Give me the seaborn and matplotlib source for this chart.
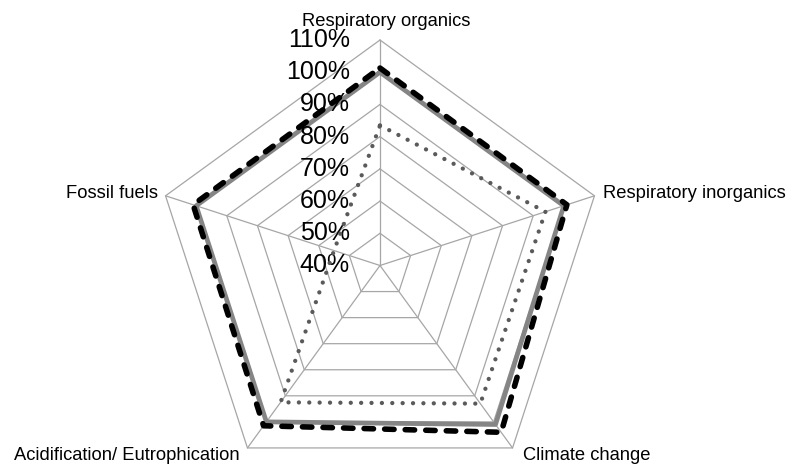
import numpy as np
import pandas as pd
import matplotlib
matplotlib.use("Agg")
import matplotlib.pyplot as plt
import seaborn as sns

# ---- data ----
categories = ["Respiratory organics", "Respiratory inorganics", "Climate change",
              "Acidification/ Eutrophication", "Fossil fuels"]
series_solid = [100, 100, 101, 100, 100]
series_dashed = [101.3, 101, 104, 101.5, 101]
series_dotted = [83.5, 94, 93, 92.5, 55]
tick_values = [40, 50, 60, 70, 80, 90, 100, 110]
tick_labels = ["40%", "50%", "60%", "70%", "80%", "90%", "100%", "110%"]

sns.set_theme(style="white")
plt.rcParams['font.family'] = ['Liberation Sans', 'DejaVu Sans']

fig = plt.figure(figsize=(7.96, 4.67), dpi=100)
W, H = 796, 467
cx, cy, R = 380, 265.5, 225.5
ax = fig.add_axes([(cx - R) / W, (H - cy - R) / H, 2 * R / W, 2 * R / H], projection='polar')
ax.set_theta_offset(np.pi / 2)
ax.set_theta_direction(-1)
ax.set_ylim(tick_values[0], tick_values[-1])
ax.grid(False)
ax.spines['polar'].set_visible(False)
ax.set_facecolor('none')
ax.set_xticks([])
ax.set_yticks([])

n = len(categories)
angles = np.linspace(0, 2 * np.pi, n, endpoint=False)
closed = np.append(angles, 2 * np.pi)

grid_color = '#a6a6a6'
# polygon grid rings
for v in tick_values[1:]:
    ax.plot(closed, [v] * (n + 1), color=grid_color, lw=0.9, clip_on=False, zorder=1)
# spokes
for a in angles:
    ax.plot([a, a], [tick_values[0], tick_values[-1]], color=grid_color, lw=0.9, clip_on=False, zorder=1)

def draw(vals, **kw):
    vv = list(vals) + [vals[0]]
    df = pd.DataFrame({"angle": closed, "value": vv})
    sns.lineplot(data=df, x="angle", y="value", ax=ax, sort=False, estimator=None,
                 legend=False, **kw)

draw(series_solid, color='#858585', lw=3.4, zorder=3)
draw(series_dotted, color='#5a5a5a', lw=3.1, linestyle=(0, (0.01, 2.4)),
     dash_capstyle='round', zorder=4)
draw(series_dashed, color='#000000', lw=4.0, linestyle=(0, (1.7, 2.0)),
     dash_capstyle='round', zorder=5)

ax.set_xlabel("")
ax.set_ylabel("")

# radial tick labels
for v, lab in zip(tick_values, tick_labels):
    ax.annotate(lab, xy=(0, v), xytext=(-30, 0), textcoords='offset pixels',
                ha='right', va='center', fontsize=18, color='black', annotation_clip=False)

# category labels
label_offsets = [(6, 18, 'center', 'center'), (9, 2, 'left', 'center'),
                 (10, -8, 'left', 'center'), (-8, -8, 'right', 'center'),
                 (-8, 2, 'right', 'center')]
for a, lab, (dx, dy, ha, va) in zip(angles, categories, label_offsets):
    ax.annotate(lab, xy=(a, tick_values[-1]), xytext=(dx, dy), textcoords='offset pixels',
                ha=ha, va=va, fontsize=13.2, color='black', annotation_clip=False)

fig.savefig("out.png", dpi=100)
